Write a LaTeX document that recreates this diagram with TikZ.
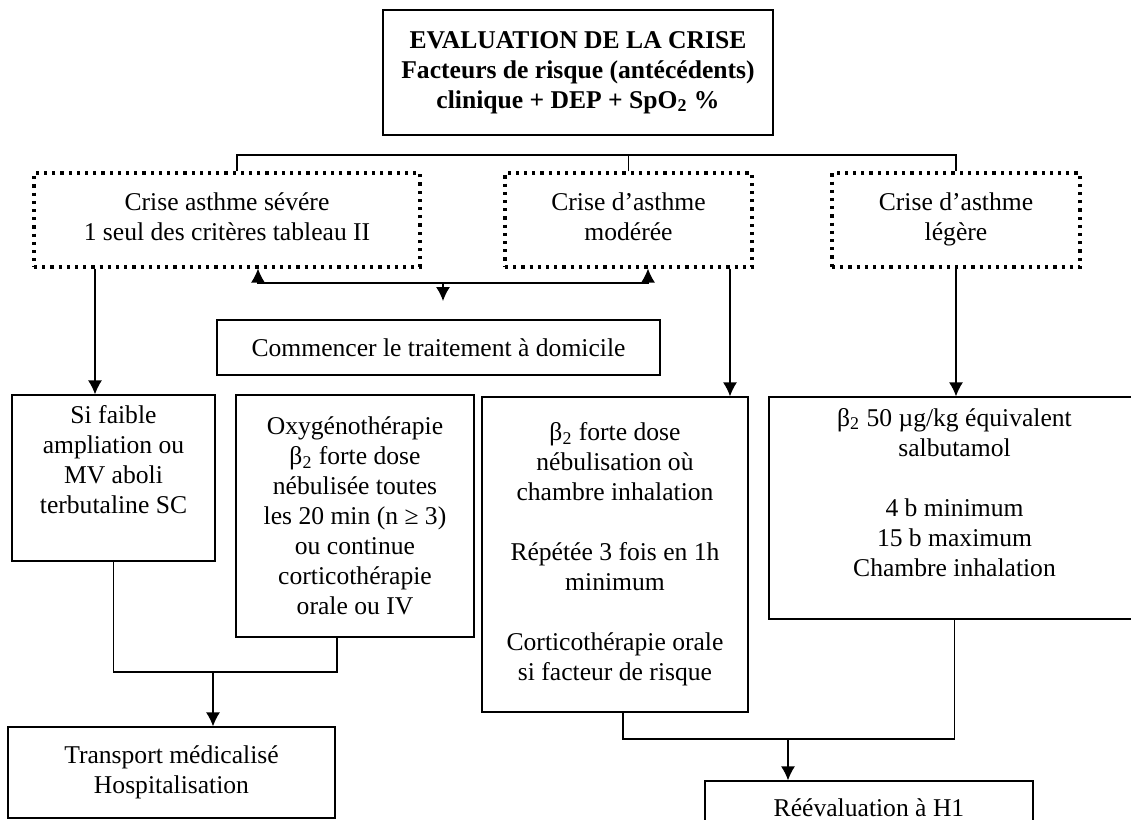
\documentclass[tikz,border=0pt]{standalone}
\usepackage{fontspec}
\setmainfont{Liberation Serif}
\usetikzlibrary{arrows.meta}

\begin{document}
\begin{tikzpicture}[x=0.5pt, y=-0.5pt, line width=0.65pt,
    every node/.style={font=\fontsize{12.8}{15}\selectfont, align=center, inner sep=0pt},
    box/.style={draw, line width=0.65pt},
    crise/.style={draw, line width=1.6pt, dash pattern=on 1.6pt off 2.5pt, text depth=3pt}]
      \tikzset{>={Latex[length=7pt,width=7pt]}}
      \useasboundingbox (0,0) rectangle (1131,820);

      % evaluation
      \node[box, minimum width=195pt, minimum height=62.5pt,
            font=\bfseries\fontsize{12.8}{15}\selectfont] (eval) at (578,72.5)
            {EVALUATION DE LA CRISE\\Facteurs de risque (antécédents)\\clinique + DEP + SpO\textsubscript{2} \%};

      % les trois crises
      \node[crise, minimum width=193pt, minimum height=47pt] (sev) at (227,220) {Crise asthme sévére\\1 seul des critères tableau II};
      \node[crise, minimum width=123.5pt, minimum height=47pt] (mod) at (628.5,220) {Crise d’asthme\\modérée};
      \node[crise, minimum width=124pt, minimum height=47pt] (leg) at (956,220) {Crise d’asthme\\légère};

      \node[box, minimum width=221.5pt, minimum height=27.5pt] (dom) at (438.5,347.5) {Commencer le traitement à domicile};

      % traitements
      \node[box, minimum width=101.5pt, minimum height=83pt, text depth=19pt] (faible) at (113.5,478)
            {Si faible\\ampliation ou\\MV aboli\\terbutaline SC};
      \node[box, minimum width=119pt, minimum height=121pt] (oxy) at (355,516)
            {Oxygénothérapie\\β\textsubscript{2} forte dose\\nébulisée toutes\\les 20 min (n ≥ 3)\\ou continue\\corticothérapie\\orale ou IV};
      \node[box, minimum width=133pt, minimum height=157.5pt] (forte) at (615,554.5)
            {β\textsubscript{2} forte dose\\nébulisation où\\chambre inhalation\\[15pt]Répétée 3 fois en 1h\\minimum\\[15pt]Corticothérapie orale\\si facteur de risque};
      \node[box, minimum width=185.5pt, minimum height=111pt, text depth=16pt] (salbu) at (954.5,508)
            {β\textsubscript{2} 50 µg/kg équivalent\\salbutamol\\[15pt]4 b minimum\\15 b maximum\\Chambre inhalation};

      % issues
      \node[box, minimum width=163.5pt, minimum height=45.5pt] (transp) at (171.5,772.5) {Transport médicalisé\\Hospitalisation};
      \node[box, minimum width=164pt, minimum height=27pt] (reev) at (869,808) {Réévaluation à H1};

      \coordinate (bar) at (0,155);
      \coordinate (split) at (443,283);
      \coordinate (splitend) at (443,301);
      \coordinate (jointL) at (213,672);
      \coordinate (jointR) at (788,739);
      \coordinate (sevout) at ([xshift=-66pt]sev.south);
      \coordinate (modout) at ([xshift=50.75pt]mod.south);

      \draw ([xshift=5pt]sev.north) |- (bar -| leg.north) -- (leg.north);
      \draw (mod.north) -- (mod.north |- bar);
      \draw[<->] ([xshift=15.5pt]sev.south) |- (split) -| ([xshift=9.75pt]mod.south);
      \draw[->] (split) -- (splitend);

      \draw[->] (sevout) -- (sevout |- faible.north);
      \draw[->] (modout) -- (modout |- forte.north);
      \draw[->] (leg.south) -- (leg.south |- salbu.north);

      \draw (faible.south) |- (jointL) -| ([xshift=-9pt]oxy.south);
      \draw[->] (jointL) -- (jointL |- transp.north);
      \draw ([xshift=4pt]forte.south) |- (jointR) -| (salbu.south);
      \draw[->] (jointR) -- (jointR |- reev.north);
\end{tikzpicture}
\end{document}
